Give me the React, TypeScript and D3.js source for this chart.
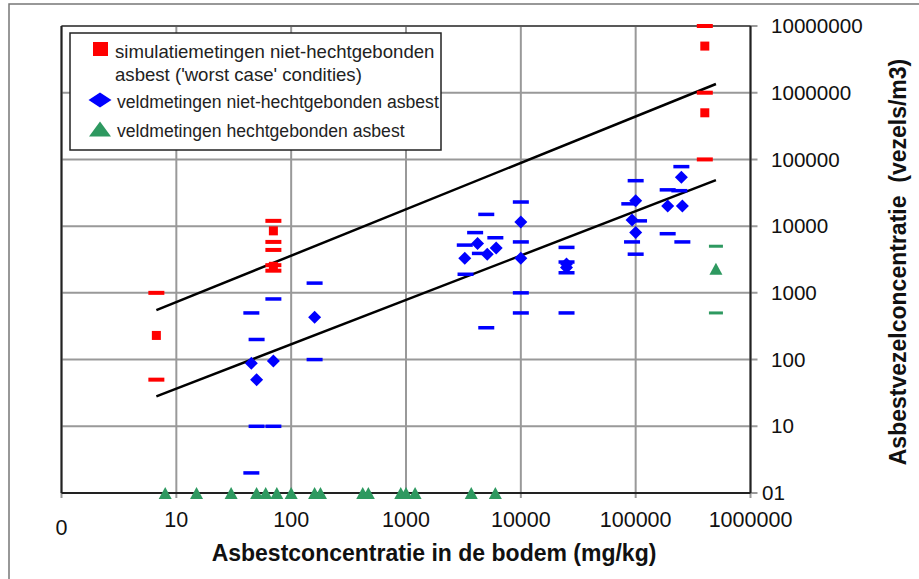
import React from 'react';
import * as d3 from 'd3';

// axis ticks
const xTicks = [1, 10, 100, 1000, 10000, 100000, 1000000];
const xTickLabels = ['0', '10', '100', '1000', '10000', '100000', '1000000'];
const yTicks = [1, 10, 100, 1000, 10000, 100000, 1000000, 10000000];
const yTickLabels = ['01', '10', '100', '1000', '10000', '100000', '1000000', '10000000'];

// simulatiemetingen niet-hechtgebonden asbest (worst case)
const redSquares: [number, number][] = [
  [6.7, 230], [70, 8500], [70, 2500], [400000, 5000000], [400000, 500000],
];
const redDashes: [number, number][] = [
  [6.7, 1000], [6.7, 50],
  [70, 12000], [70, 5800], [70, 4400], [70, 2600], [70, 2150],
  [400000, 10000000], [400000, 1000000], [400000, 100000],
];

// veldmetingen niet-hechtgebonden asbest
const blueDiamonds: [number, number][] = [
  [45, 88], [70, 95], [50, 50], [160, 430],
  [10000, 11500], [4200, 5500], [6100, 4700], [5100, 3800], [3250, 3300], [10000, 3300],
  [25000, 2700], [25000, 2400],
  [100000, 24000], [93000, 12400], [100000, 8000],
  [250000, 54000], [190000, 20000], [255000, 20000],
];
const blueDashes: [number, number][] = [
  [70, 810], [45, 500], [50, 200], [50, 10], [70, 10], [45, 2], [160, 1400], [160, 100],
  [10000, 23000], [5000, 15000], [4000, 8000], [6000, 6700], [10000, 5800], [3250, 5200],
  [4400, 3900], [3300, 1900], [10000, 1000], [10000, 500], [5000, 300],
  [25000, 4800], [25000, 2900], [25000, 2000], [25000, 500],
  [100000, 48000], [88000, 21600], [107000, 12000], [93000, 5800], [100000, 3800],
  [250000, 78000], [190000, 35000], [240000, 34000], [190000, 7700], [255000, 5800],
];

// veldmetingen hechtgebonden asbest
const greenTriangles: [number, number][] = [
  [8, 1], [15, 1], [30, 1], [50, 1], [60, 1], [75, 1], [100, 1], [160, 1], [180, 1],
  [420, 1], [470, 1], [900, 1], [1000, 1], [1200, 1], [3700, 1], [6000, 1],
  [500000, 2300],
];
const greenDashes: [number, number][] = [[500000, 5000], [500000, 500]];

// trend lines
const upperLine: [number, number][] = [[6.7, 550], [500000, 1350000]];
const lowerLine: [number, number][] = [[6.7, 28], [500000, 49000]];

const legendItems = [
  { lines: ['simulatiemetingen niet-hechtgebonden', "asbest ('worst case' condities)"], kind: 'square', size: 18.6 },
  { lines: ['veldmetingen niet-hechtgebonden asbest'], kind: 'diamond', size: 17.6 },
  { lines: ['veldmetingen hechtgebonden asbest'], kind: 'triangle', size: 17.6 },
];

const RED = '#ff0000';
const BLUE = '#0000ff';
const GREEN = '#2e9960';
const FONT = '"Liberation Sans", Arial, sans-serif';

export default function App() {
  const left = 61.5, right = 750.5, top = 26, bottom = 493;
  const x = d3.scaleLog().domain([1, 1000000]).range([left, right]);
  const y = d3.scaleLog().domain([1, 10000000]).range([bottom, top]);
  const line = d3.line<[number, number]>().x(d => x(d[0])).y(d => y(d[1]));

  const diamond = (cx: number, cy: number, w: number, h: number) =>
    `M${cx},${cy - h / 2}L${cx + w / 2},${cy}L${cx},${cy + h / 2}L${cx - w / 2},${cy}Z`;
  const triangle = (cx: number, cy: number, w: number, h: number) =>
    `M${cx},${cy - h / 2}L${cx + w / 2},${cy + h / 2}L${cx - w / 2},${cy + h / 2}Z`;

  const legendRows = [49, 100, 129];

  return (
    <svg width={919} height={579} style={{ position: 'absolute', left: 0, top: 0, background: '#fff' }}
      fontFamily={FONT}>
      {/* outer frame */}
      <rect x={9} y={4} width={1000} height={700} fill="none" stroke="#777" strokeWidth={1.5} />

      {/* grid */}
      {xTicks.map(t => (
        <line key={'gx' + t} x1={x(t)} x2={x(t)} y1={top} y2={bottom + 5} stroke="#999" strokeWidth={2} />
      ))}
      {yTicks.map(t => (
        <line key={'gy' + t} x1={left} x2={right + 7} y1={y(t)} y2={y(t)} stroke="#999" strokeWidth={2} />
      ))}

      {/* plot border */}
      <line x1={left} x2={right} y1={top} y2={top} stroke="#444" strokeWidth={1.5} />
      <line x1={left} x2={left} y1={top} y2={bottom} stroke="#222" strokeWidth={2} />
      <line x1={right} x2={right} y1={top} y2={bottom} stroke="#222" strokeWidth={2} />
      <line x1={left} x2={right} y1={bottom} y2={bottom} stroke="#222" strokeWidth={2} />

      {/* tick labels */}
      {xTicks.map((t, i) => (
        <text key={'xl' + t} x={x(t)} y={i === 0 ? 535 : 527} textAnchor="middle" fontSize={21.5} fill="#111">
          {xTickLabels[i]}
        </text>
      ))}
      {yTicks.map((t, i) => (
        <text key={'yl' + t} x={i === 0 ? 762 : 771} y={y(t)} dy="0.35em" fontSize={20.6} fill="#111">
          {yTickLabels[i]}
        </text>
      ))}

      {/* axis titles */}
      <text x={434} y={561} textAnchor="middle" fontSize={23} fontWeight="bold" fill="#111">
        Asbestconcentratie in de bodem (mg/kg)
      </text>
      <text transform="translate(898,262) rotate(-90)" textAnchor="middle" dy="0.35em" fontSize={23}
        fontWeight="bold" fill="#111" style={{ whiteSpace: 'pre' }}>
        {'Asbestvezelconcentratie  (vezels/m3)'}
      </text>

      {/* trend lines */}
      <path d={line(upperLine) || ''} fill="none" stroke="#000" strokeWidth={2.5} />
      <path d={line(lowerLine) || ''} fill="none" stroke="#000" strokeWidth={2.5} />

      {/* red */}
      {redDashes.map((d, i) => (
        <rect key={'rd' + i} x={x(d[0]) - 8} y={y(d[1]) - 2} width={16} height={4} fill={RED} />
      ))}
      {redSquares.map((d, i) => (
        <rect key={'rs' + i} x={x(d[0]) - 4.5} y={y(d[1]) - 4.5} width={9} height={9} fill={RED} />
      ))}

      {/* blue */}
      {blueDashes.map((d, i) => (
        <rect key={'bd' + i} x={x(d[0]) - 8} y={y(d[1]) - 1.75} width={16} height={3.5} fill={BLUE} />
      ))}
      {blueDiamonds.map((d, i) => (
        <path key={'bp' + i} d={diamond(x(d[0]), y(d[1]), 13, 13)} fill={BLUE} />
      ))}

      {/* green */}
      {greenDashes.map((d, i) => (
        <rect key={'gd' + i} x={x(d[0]) - 7} y={y(d[1]) - 1.5} width={14} height={3} fill={GREEN} />
      ))}
      {greenTriangles.map((d, i) => (
        <path key={'gt' + i} d={triangle(x(d[0]), y(d[1]), 13, 12)} fill={GREEN} />
      ))}

      {/* legend */}
      <rect x={70} y={33} width={371} height={117} fill="#fff" stroke="#222" strokeWidth={1.5} />
      {legendItems.map((item, i) => {
        const cy = legendRows[i];
        return (
          <g key={'lg' + i}>
            {item.kind === 'square' && <rect x={93} y={cy - 7} width={15} height={14} fill={RED} />}
            {item.kind === 'diamond' && <path d={diamond(100, cy, 23, 15)} fill={BLUE} />}
            {item.kind === 'triangle' && <path d={triangle(100, cy, 22, 15)} fill={GREEN} />}
            {item.lines.map((s, j) => (
              <text key={j} x={item.kind === 'square' ? 115 : 117} y={cy + 3 + j * 23} dy="0.3em"
                fontSize={item.size} fill="#222">
                {s}
              </text>
            ))}
          </g>
        );
      })}
    </svg>
  );
}
